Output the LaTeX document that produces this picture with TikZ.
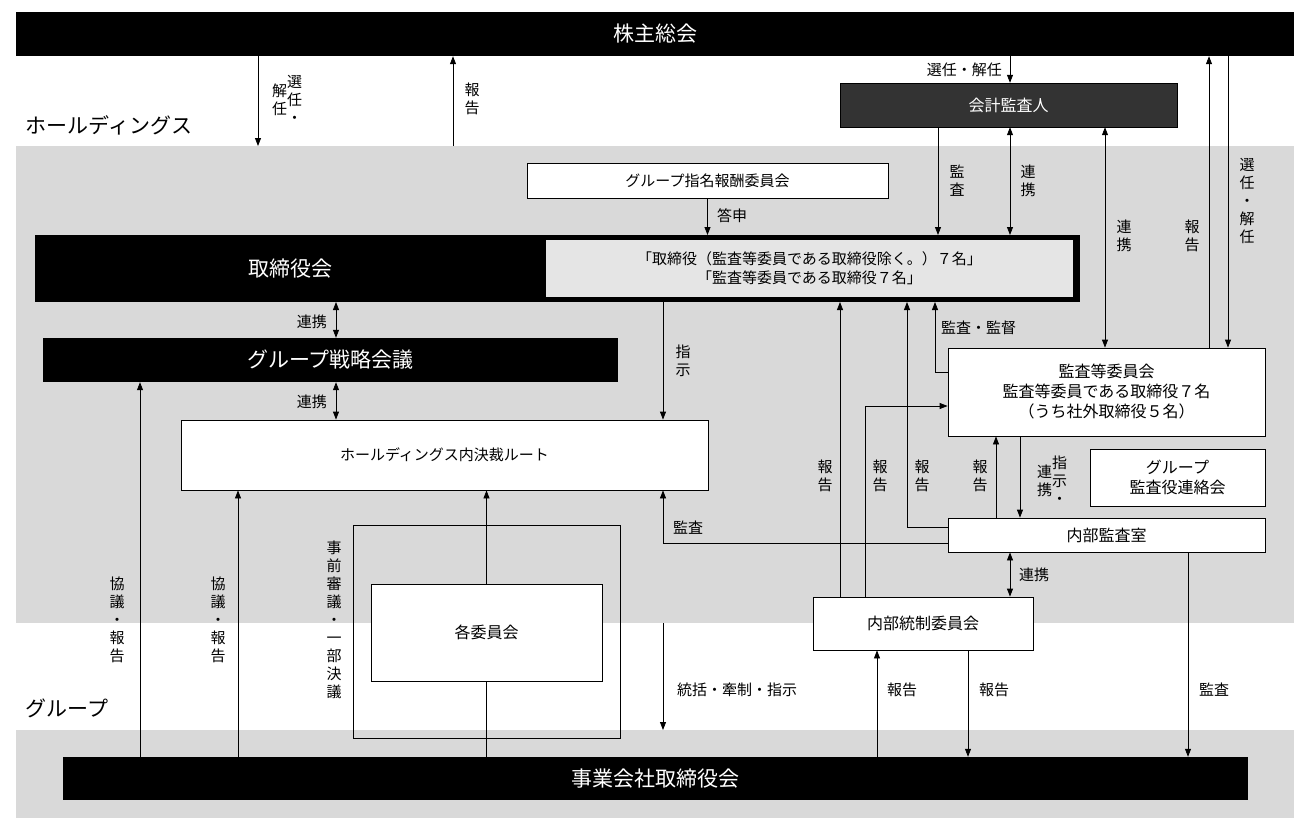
\documentclass[tikz,border=0pt]{standalone}
\usepackage{fontspec}
\setmainfont{Noto Sans CJK JP}
\usetikzlibrary{arrows.meta}
\tikzstyle{arr}=[-{Triangle[length=8pt,width=6pt]},thick]
\tikzstyle{darr}=[{Triangle[length=8pt,width=6pt]}-{Triangle[length=8pt,width=6pt]},thick]
\tikzstyle{line}=[thick]
\tikzstyle{wbox}=[draw,thick,fill=white,inner sep=0pt,font=\fontsize{15}{18}\selectfont]
\tikzstyle{bbox}=[fill=black,text=white,inner sep=0pt,font=\fontsize{21}{24}\selectfont]
\tikzstyle{lab}=[inner sep=1pt,font=\fontsize{15}{18}\selectfont]
\tikzstyle{vlab}=[inner sep=1pt,align=center,font=\fontsize{15}{18}\selectfont]
\newcommand{\vt}[1]{\begin{tabular}{@{}c@{}}#1\end{tabular}}
\begin{document}
\begin{tikzpicture}[x=1pt,y=-1pt]
\useasboundingbox (0,0) rectangle (1310,830);
% background
\fill[gray!30] (16,146) rectangle (1294,623);
\fill[gray!30] (16,730) rectangle (1294,818);
\node[anchor=west,font=\fontsize{21}{24}\selectfont] (hd) at (22,125) {ホールディングス};
\node[anchor=west,font=\fontsize{21}{24}\selectfont] (gr) at (22,708) {グループ};

% boxes
\node[bbox,minimum width=1278pt,minimum height=44pt] (soukai) at (655,34) {株主総会};
\node[fill=black!80,draw=black,text=white,inner sep=0pt,minimum width=337pt,minimum height=44pt,font=\fontsize{16}{19}\selectfont] (kaikei) at (1008.5,105) {会計監査人};
\node[wbox,minimum width=361pt,minimum height=35pt] (nomi) at (707.5,180.5) {グループ指名報酬委員会};
\node[bbox,draw=black,line width=4pt,minimum width=1041pt,minimum height=63pt] (board) at (557.5,268.5) {};
\node[bbox] (boardt) at (290,269) {取締役会};
\node[fill=gray!20,inner sep=0pt,minimum width=527pt,minimum height=57pt,align=center,font=\fontsize{15}{19}\selectfont] (boardin) at (809.5,268.5) {「取締役（監査等委員である取締役除く。）７名」\\「監査等委員である取締役７名」};
\node[bbox,minimum width=575pt,minimum height=44pt] (senryaku) at (330.5,360) {グループ戦略会議};
\node[wbox,minimum width=527pt,minimum height=70pt] (route) at (444.5,455) {ホールディングス内決裁ルート};
\node[wbox,align=center,minimum width=317pt,minimum height=88pt,font=\fontsize{16}{20}\selectfont] (kansa) at (1106.5,392) {監査等委員会\\監査等委員である取締役７名\\（うち社外取締役５名）};
\node[wbox,align=center,minimum width=175pt,minimum height=57pt,font=\fontsize{16}{20}\selectfont] (renraku) at (1177.5,477.5) {グループ\\監査役連絡会};
\node[wbox,minimum width=317pt,minimum height=34pt,font=\fontsize{16}{19}\selectfont] (naibu) at (1106.5,535) {内部監査室};
\node[wbox,minimum width=220pt,minimum height=53pt,font=\fontsize{16}{19}\selectfont] (tousei) at (923,623.5) {内部統制委員会};
\node[draw,thick,inner sep=0pt,minimum width=267pt,minimum height=213pt] (frame) at (486.5,631.5) {};
\node[wbox,minimum width=231pt,minimum height=97pt,font=\fontsize{16}{19}\selectfont] (iinkai) at (486.5,632.5) {各委員会};
\node[bbox,minimum width=1185pt,minimum height=43pt] (jigyo) at (655.5,778.5) {事業会社取締役会};

% 株主総会 <-> ホールディングス
\draw[arr] (258,0 |- soukai.south) -- (258,146);
\node[vlab] (l1) at (287,102) {\vt{解\\任}\vt{選\\任\\・}};
\draw[arr] (453,146) -- (453,0 |- soukai.south);
\node[vlab] (l2) at (472,101) {\vt{報\\告}};
\draw[arr] (1010,0 |- soukai.south) -- (1010,0 |- kaikei.north);
\node[lab,anchor=east] (l3) at (1003,70) {選任・解任};

% 会計監査人
\draw[arr] (938,0 |- kaikei.south) -- (938,0 |- board.north);
\node[vlab] (l4) at (957,183) {\vt{監\\査}};
\draw[darr] (1010,0 |- kaikei.south) -- (1010,0 |- board.north);
\node[vlab] (l5) at (1028,183) {\vt{連\\携}};
\draw[darr] (1105,0 |- kaikei.south) -- (1105,0 |- kansa.north);
\node[vlab] (l6) at (1124,238) {\vt{連\\携}};
\draw[arr] (1209,0 |- kansa.north) -- (1209,0 |- soukai.south);
\node[vlab] (l7) at (1192,238) {\vt{報\\告}};
\draw[arr] (1228,0 |- soukai.south) -- (1228,0 |- kansa.north);
\node[vlab] (l8) at (1247,203) {\vt{選\\任\\・\\解\\任}};

% 取締役会周り
\draw[arr] (nomi.south) -- (nomi.south |- board.north);
\node[lab,anchor=west] (l9) at (716,216) {答申};
\draw[darr] (336,0 |- board.south) -- (336,0 |- senryaku.north);
\node[lab,anchor=east] (l10) at (328,322) {連携};
\draw[darr] (336,0 |- senryaku.south) -- (336,0 |- route.north);
\node[lab,anchor=east] (l11) at (328,402) {連携};
\draw[arr] (663,0 |- board.south) -- (663,0 |- route.north);
\node[vlab] (l12) at (683,363) {\vt{指\\示}};
\draw[arr] (kansa.west |- 0,372) -- (935,372) -- (935,0 |- board.south);
\node[lab,anchor=west] (l13) at (940,328) {監査・監督};

% 報告
\draw[arr] (840,0 |- tousei.north) -- (840,0 |- board.south);
\node[vlab] (l14) at (825,478) {\vt{報\\告}};
\draw[arr] (865,0 |- tousei.north) -- (865,406) -- (kansa.west |- 0,406);
\node[vlab] (l15) at (880,478) {\vt{報\\告}};
\draw[arr] (naibu.west |- 0,527) -- (907,527) -- (907,0 |- board.south);
\node[vlab] (l16) at (922,478) {\vt{報\\告}};
\draw[arr] (996,0 |- naibu.north) -- (996,0 |- kansa.south);
\node[vlab] (l17) at (980,478) {\vt{報\\告}};
\draw[arr] (1020,0 |- kansa.south) -- (1020,0 |- naibu.north);
\node[vlab] (l18) at (1052,483) {\vt{連\\携}\vt{指\\示\\・}};

% 監査
\draw[arr] (naibu.west |- 0,543) -- (663,543) -- (663,0 |- route.south);
\node[lab,anchor=west] (l19) at (672,528) {監査};
\draw[darr] (1010,0 |- naibu.south) -- (1010,0 |- tousei.north);
\node[lab,anchor=west] (l20) at (1018,575) {連携};
\draw[arr] (1188,0 |- naibu.south) -- (1188,0 |- jigyo.north);
\node[lab,anchor=west] (l21) at (1198,690) {監査};

% グループ
\draw[arr] (663,623) -- (663,730);
\node[lab,anchor=west] (l22) at (676,690) {統括・牽制・指示};
\draw[arr] (877,0 |- jigyo.north) -- (877,0 |- tousei.south);
\node[lab,anchor=west] (l23) at (886,690) {報告};
\draw[arr] (968,0 |- tousei.south) -- (968,0 |- jigyo.north);
\node[lab,anchor=west] (l24) at (978,690) {報告};
\draw[arr] (140,0 |- jigyo.north) -- (140,0 |- senryaku.south);
\node[vlab] (l25) at (117,622) {\vt{協\\議\\・\\報\\告}};
\draw[arr] (238,0 |- jigyo.north) -- (238,0 |- route.south);
\node[vlab] (l26) at (218,622) {\vt{協\\議\\・\\報\\告}};
\draw[line] (jigyo.north -| iinkai.south) -- (iinkai.south);
\draw[arr] (iinkai.north) -- (iinkai.north |- route.south);
\node[vlab] (l27) at (334,622) {\vt{事\\前\\審\\議\\・\\一\\部\\決\\議}};
\end{tikzpicture}
\end{document}
